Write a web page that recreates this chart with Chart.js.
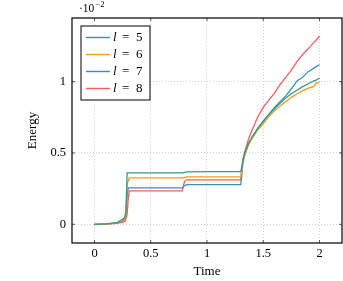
<!DOCTYPE html>
<html>
<head>
<meta charset="utf-8">
<script src="https://cdn.jsdelivr.net/npm/chart.js@4/dist/chart.umd.min.js"></script>
<style>
  html, body { margin: 0; padding: 0; background: #fff; }
  #wrap { width: 343px; height: 281px; }
</style>
</head>
<body>
<div id="wrap"><canvas id="energyChart" width="343" height="281"></canvas></div>
<script>
// energy values are in units of 10^-2
const times = [0, 0.1, 0.2, 0.25, 0.27, 0.28, 0.29, 0.30, 0.31, 0.5, 0.78, 0.80, 0.82, 1.0, 1.30, 1.31, 1.32, 1.34, 1.37, 1.40, 1.45, 1.50, 1.55, 1.60, 1.65, 1.70, 1.75, 1.80, 1.85, 1.90, 1.95, 1.97, 2.00];

const energyL5 = [0, 0.003, 0.012, 0.035, 0.05, 0.10, 0.36, 0.36, 0.36, 0.36, 0.36, 0.364, 0.368, 0.369, 0.37, 0.40, 0.45, 0.51, 0.57, 0.61, 0.67, 0.72, 0.77, 0.81, 0.85, 0.885, 0.915, 0.94, 0.965, 0.985, 1.005, 1.01, 1.025];
const energyL6 = [0, 0.002, 0.01, 0.03, 0.04, 0.08, 0.29, 0.30, 0.325, 0.325, 0.325, 0.328, 0.332, 0.332, 0.332, 0.38, 0.44, 0.50, 0.56, 0.60, 0.66, 0.705, 0.755, 0.795, 0.83, 0.86, 0.89, 0.915, 0.935, 0.955, 0.965, 0.99, 0.995];
const energyL7 = [0, 0.002, 0.01, 0.025, 0.035, 0.07, 0.20, 0.256, 0.256, 0.256, 0.256, 0.27, 0.278, 0.278, 0.278, 0.35, 0.44, 0.50, 0.56, 0.61, 0.67, 0.725, 0.77, 0.82, 0.86, 0.90, 0.95, 1.005, 1.03, 1.07, 1.095, 1.105, 1.12];
const energyL8 = [0, 0.001, 0.006, 0.015, 0.02, 0.04, 0.07, 0.18, 0.234, 0.234, 0.234, 0.30, 0.312, 0.312, 0.312, 0.40, 0.46, 0.52, 0.60, 0.66, 0.75, 0.82, 0.87, 0.92, 0.98, 1.03, 1.08, 1.14, 1.19, 1.23, 1.275, 1.29, 1.32];

const seriesNames = ['5', '6', '7', '8'];
const seriesColors = ['#2a9d8f', '#ff9914', '#3a8fb7', '#ff5a5f'];
const seriesValues = [energyL5, energyL6, energyL7, energyL8];

const xTicks = [0, 0.5, 1, 1.5, 2];
const yTicks = [0, 0.5, 1];

const serif = '"Liberation Serif", "DejaVu Serif", serif';

const datasets = seriesValues.map((vals, i) => ({
  label: 'l = ' + seriesNames[i],
  data: vals.map((v, j) => ({ x: times[j], y: v })),
  borderColor: seriesColors[i],
  borderWidth: 1.3,
  pointRadius: 0,
  tension: 0,
  fill: false
}));

// frame, inner tick marks, exponent label and boxed legend
const decorations = {
  id: 'decorations',
  afterDraw(chart) {
    const ctx = chart.ctx;
    const a = chart.chartArea;
    const xs = chart.scales.x, ys = chart.scales.y;
    ctx.save();

    ctx.strokeStyle = '#333';
    ctx.lineWidth = 0.8;
    ctx.beginPath();
    xTicks.forEach(v => {
      const px = xs.getPixelForValue(v);
      ctx.moveTo(px, a.bottom); ctx.lineTo(px, a.bottom - 3);
      ctx.moveTo(px, a.top); ctx.lineTo(px, a.top + 3);
    });
    yTicks.forEach(v => {
      const py = ys.getPixelForValue(v);
      ctx.moveTo(a.left, py); ctx.lineTo(a.left + 3, py);
      ctx.moveTo(a.right, py); ctx.lineTo(a.right - 3, py);
    });
    ctx.stroke();

    ctx.strokeStyle = '#000';
    ctx.lineWidth = 1.2;
    ctx.strokeRect(a.left, a.top, a.right - a.left, a.bottom - a.top);

    // exponent
    ctx.fillStyle = '#000';
    ctx.textBaseline = 'alphabetic';
    ctx.textAlign = 'left';
    ctx.font = '11.5px ' + serif;
    ctx.fillText('\u00b710', 79, 12);
    ctx.font = '8.5px ' + serif;
    ctx.fillText('\u22122', 95.5, 6.5);

    // legend
    const lx = a.left + 9, ly = a.top + 8;
    const rowH = 17;
    ctx.fillStyle = '#fff';
    ctx.fillRect(lx, ly, 69, 74);
    ctx.strokeStyle = '#000';
    ctx.lineWidth = 1;
    ctx.strokeRect(lx, ly, 69, 74);
    chart.data.datasets.forEach((ds, i) => {
      const y = ly + 11.5 + i * rowH;
      ctx.strokeStyle = ds.borderColor;
      ctx.lineWidth = 1.4;
      ctx.beginPath();
      ctx.moveTo(lx + 5, y); ctx.lineTo(lx + 29, y);
      ctx.stroke();
      ctx.fillStyle = '#000';
      ctx.textBaseline = 'middle';
      ctx.font = 'italic 13px ' + serif;
      ctx.fillText('l', lx + 32, y);
      ctx.font = '13px ' + serif;
      ctx.fillText('=', lx + 41, y);
      ctx.fillText(seriesNames[i], lx + 55, y);
    });
    ctx.restore();
  }
};

new Chart(document.getElementById('energyChart'), {
  type: 'line',
  data: { datasets },
  options: {
    responsive: false,
    animation: false,
    layout: { padding: { left: 0, right: 1, top: 18, bottom: 0 } },
    plugins: {
      legend: { display: false },
      tooltip: { enabled: false }
    },
    scales: {
      x: {
        type: 'linear',
        min: -0.2,
        max: 2.2,
        afterBuildTicks: s => { s.ticks = xTicks.map(v => ({ value: v })); },
        afterFit: s => { s.height = 38; },
        ticks: {
          padding: 3,
          maxRotation: 0,
          color: '#000',
          font: { family: serif, size: 12.5 },
          callback: v => String(v)
        },
        grid: { color: '#c4c4c4', lineWidth: 0.8, drawTicks: false },
        border: { display: false, dash: [1, 2] },
        title: {
          display: true,
          text: 'Time',
          color: '#000',
          font: { family: serif, size: 13 },
          padding: { top: 0, bottom: 2 }
        }
      },
      y: {
        type: 'linear',
        min: -0.131,
        max: 1.446,
        afterBuildTicks: s => { s.ticks = yTicks.map(v => ({ value: v })); },
        afterFit: s => { s.width = 72; },
        ticks: {
          padding: 6,
          color: '#000',
          font: { family: serif, size: 12.5 },
          callback: v => String(v)
        },
        grid: { color: '#c4c4c4', lineWidth: 0.8, drawTicks: false },
        border: { display: false, dash: [1, 2] },
        title: {
          display: true,
          text: 'Energy',
          color: '#000',
          font: { family: serif, size: 13 },
          padding: { top: 25, bottom: 0 }
        }
      }
    }
  },
  plugins: [decorations]
});
</script>
</body>
</html>
